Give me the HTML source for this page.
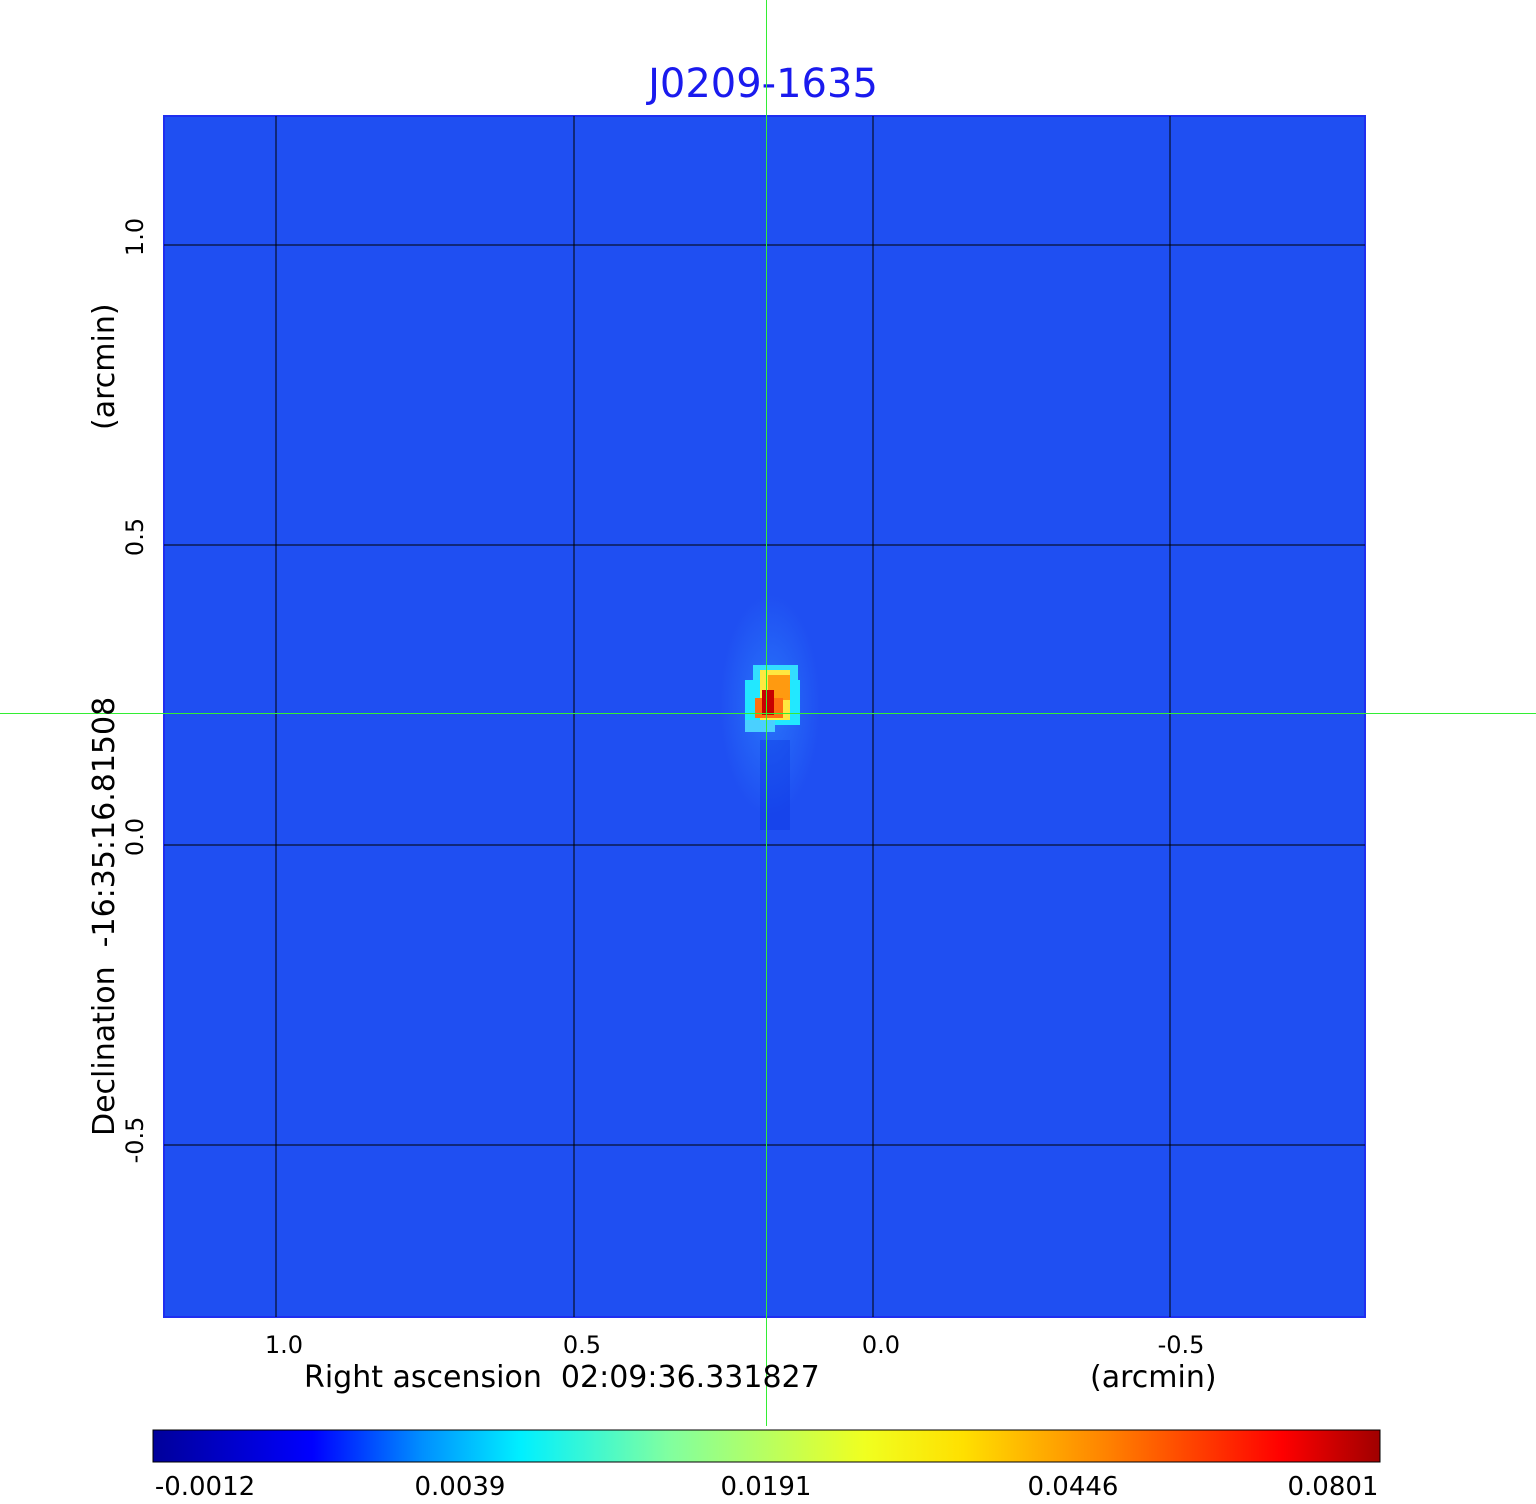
<!DOCTYPE html>
<html><head><meta charset="utf-8"><style>
body{margin:0;background:#fff;width:1536px;height:1500px;overflow:hidden;font-family:"DejaVu Sans","Liberation Sans",sans-serif;}
</style></head><body>
<svg width="1536" height="1500" xmlns="http://www.w3.org/2000/svg" font-family="DejaVu Sans, Liberation Sans, sans-serif">
<defs>
<linearGradient id="cb" x1="0" x2="1" y1="0" y2="0">
<stop offset="0" stop-color="#00009a"/>
<stop offset="0.13" stop-color="#0000ff"/>
<stop offset="0.22" stop-color="#0090ff"/>
<stop offset="0.3" stop-color="#00f0ff"/>
<stop offset="0.42" stop-color="#80ffa0"/>
<stop offset="0.58" stop-color="#f0ff20"/>
<stop offset="0.66" stop-color="#ffe000"/>
<stop offset="0.78" stop-color="#ff8000"/>
<stop offset="0.92" stop-color="#ff0000"/>
<stop offset="1" stop-color="#a00000"/>
</linearGradient>
<radialGradient id="src" cx="0.5" cy="0.5" r="0.5">
<stop offset="0" stop-color="#2f8cff" stop-opacity="0.6"/>
<stop offset="1" stop-color="#2f8cff" stop-opacity="0"/>
</radialGradient>
</defs>
<text x="763" y="97" font-size="40" fill="#1a1aee" text-anchor="middle">J0209-1635</text>
<rect x="164" y="116" width="1201" height="1201" fill="#1f4ff2" stroke="#1f2ff0" stroke-width="2"/>
<ellipse cx="770" cy="705" rx="50" ry="110" fill="url(#src)"/>
<g shape-rendering="crispEdges">
<rect x="753" y="665" width="45" height="15" fill="#33ddff"/>
<rect x="745" y="680" width="55" height="45" fill="#22e8ff"/>
<rect x="760" y="670" width="30" height="50" fill="#ffe840"/>
<rect x="768" y="675" width="22" height="25" fill="#ff9a10"/>
<rect x="755" y="698" width="28" height="20" fill="#ff7010"/>
<rect x="762" y="690" width="12" height="25" fill="#c80000"/>
<rect x="745" y="720" width="30" height="12" fill="#4ad0ff"/>
<rect x="760" y="740" width="30" height="90" fill="#0a30e0" opacity="0.35"/>
</g>
<g stroke="#000" stroke-width="1" shape-rendering="crispEdges">
<line x1="276" y1="116" x2="276" y2="1317"/><line x1="574" y1="116" x2="574" y2="1317"/>
<line x1="873" y1="116" x2="873" y2="1317"/><line x1="1170" y1="116" x2="1170" y2="1317"/>
<line x1="164" y1="245" x2="1365" y2="245"/><line x1="164" y1="545" x2="1365" y2="545"/>
<line x1="164" y1="845" x2="1365" y2="845"/><line x1="164" y1="1145" x2="1365" y2="1145"/>
</g>
<g shape-rendering="crispEdges">
<rect x="766" y="0" width="1" height="1426" fill="#33ee33"/>
<rect x="0" y="713" width="1536" height="1" fill="#33ee33"/>
</g>
<g font-size="24" fill="#000" text-anchor="middle">
<text x="284" y="1353">1.0</text><text x="582" y="1353">0.5</text><text x="881" y="1353">0.0</text><text x="1181" y="1353">-0.5</text>
</g>
<text x="304" y="1387" font-size="30" fill="#000" xml:space="preserve">Right ascension  02:09:36.331827</text>
<text x="1090" y="1387" font-size="30" fill="#000">(arcmin)</text>
<g font-size="24" fill="#000" text-anchor="middle">
<text transform="translate(143,237) rotate(-90)">1.0</text>
<text transform="translate(143,537) rotate(-90)">0.5</text>
<text transform="translate(143,837) rotate(-90)">0.0</text>
<text transform="translate(143,1140) rotate(-90)">-0.5</text>
</g>
<text transform="translate(114,1136) rotate(-90)" font-size="30" fill="#000" xml:space="preserve">Declination  -16:35:16.81508</text>
<text transform="translate(114,430) rotate(-90)" font-size="30" fill="#000">(arcmin)</text>
<rect x="153" y="1430" width="1227" height="32" fill="url(#cb)" stroke="#000" stroke-width="1"/>
<g font-size="26" fill="#000" text-anchor="middle">
<text x="205" y="1495">-0.0012</text><text x="460" y="1495">0.0039</text><text x="766" y="1495">0.0191</text><text x="1073" y="1495">0.0446</text><text x="1333" y="1495">0.0801</text>
</g>
</svg>
</body></html>
